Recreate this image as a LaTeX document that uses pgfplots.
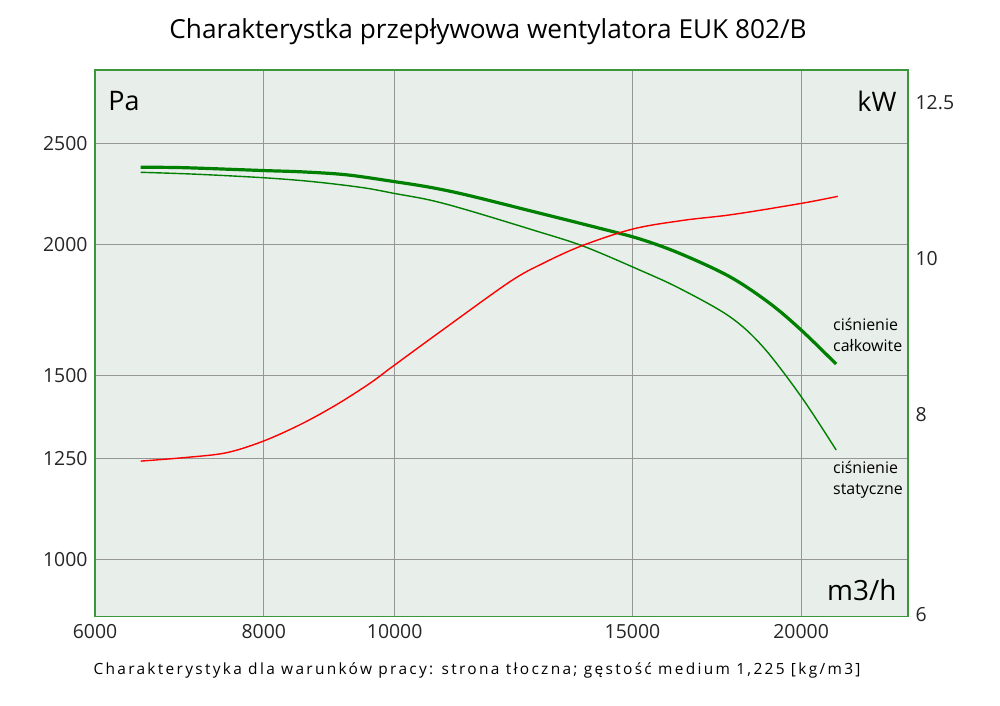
\documentclass[border=0pt]{standalone}
\usepackage{pgfplots}
\pgfplotsset{compat=1.18}
\usepackage{fontspec}
\usepackage{graphicx}
\setmainfont{Open Sans}
\definecolor{bgc}{RGB}{232,238,234}
\definecolor{framec}{RGB}{60,150,60}
\definecolor{gridc}{RGB}{150,150,150}
\definecolor{curveg}{RGB}{0,128,0}
\begin{document}
\begin{tikzpicture}[x=1bp,y=1bp]
\path[use as bounding box,fill=white] (0,0) rectangle (1000,706);
\node[font=\fontsize{26.3}{30}\selectfont] at (488,674) {Charakterystka przepływowa wentylatora EUK 802/B};
\node[font=\fontsize{15.5}{18}\selectfont] at (477,36) {\addfontfeatures{LetterSpace=15}Charakterystyka dla warunków pracy: strona tłoczna; gęstość medium 1,225 [kg/m3]};
\begin{axis}[
  at={(95bp,89.3bp)}, anchor=south west,
  scale only axis, width=813bp, height=546.7bp,
  xmode=log, ymode=log,
  xmin=6000, xmax=24000, ymin=882, ymax=2939,
  axis background/.style={fill=bgc},
  axis line style={framec, line width=1.5bp},
  xtick={6000,8000,10000,15000,20000},
  xticklabels={6000,8000,10000,15000,20000},
  ytick={1000,1250,1500,2000,2500},
  yticklabels={1000,1250,1500,2000,2500},
  minor tick num=0, minor xtick={}, minor ytick={},
  major tick length=0pt,
  grid=major,
  major grid style={gridc, line width=1bp},
  ticklabel style={font=\fontsize{19.5}{22}\selectfont, text=black!85},
  xticklabel style={yshift=-4bp},
  yticklabel style={xshift=-4bp},
  clip=true,
]
\addplot[curveg, line width=3.2bp, smooth, tension=0.55] coordinates {
(6486,2372) (6974,2370) (8000,2355) (8557,2348) (9214,2333) (10003,2298)
(10618,2270) (11303,2232) (12662,2152) (14185,2074) (15187,2026) (16256,1963)
(17701,1865) (18950,1759) (20000,1658) (21230,1538)};
\addplot[curveg, line width=1.4bp, smooth, tension=0.55] coordinates {
(6486,2346) (7135,2336) (8000,2318) (8704,2298) (9473,2268) (10003,2239)
(10618,2207) (11303,2160) (12662,2066)
(13786,1995) (15187,1892) (16256,1817) (17701,1708) (18737,1598)
(20000,1432) (21230,1273)};
\node[font=\fontsize{27}{30}\selectfont, anchor=west] at (rel axis cs:0.012,0.943) {Pa};
\node[font=\fontsize{27}{30}\selectfont, anchor=east] at (rel axis cs:0.99,0.943) {kW};
\node[font=\fontsize{28}{30}\selectfont, anchor=east] at (rel axis cs:0.99,0.048) {m3/h};
\node[font=\fontsize{16}{20.5}\selectfont, anchor=west, align=left, inner sep=0pt] at (rel axis cs:0.9077,0.5153) {ciśnienie\\całkowite};
\node[font=\fontsize{16}{20.5}\selectfont, anchor=west, align=left, inner sep=0pt] at (rel axis cs:0.9077,0.25) {ciśnienie\\statyczne};
\end{axis}
\begin{axis}[
  at={(95bp,89.3bp)}, anchor=south west,
  scale only axis, width=813bp, height=546.7bp,
  xmode=log, ymode=log,
  xmin=6000, xmax=24000, ymin=5.985, ymax=13.10,
  axis x line=none,
  axis y line*=right,
  axis line style={framec, line width=1.5bp, -},
  ytick={6,8,10,12.5},
  yticklabels={6,8,10,12.5},
  minor ytick={},
  major tick length=0pt,
  ticklabel style={font=\fontsize{19.5}{22}\selectfont, text=black!85},
  yticklabel style={xshift=4bp},
  clip=true,
]
\addplot[red, line width=1.4bp, smooth, tension=0.55] coordinates {
(6486,7.48) (7016,7.52) (7509,7.57) (8000,7.70) (8533,7.89) (9058,8.11)
(9584,8.36) (9974,8.57) (10802,9.00) (12168,9.67) (12880,9.93)
(13749,10.18) (15010,10.43) (16349,10.56) (17805,10.65) (20000,10.82)
(21288,10.93)};
\end{axis}
\end{tikzpicture}
\end{document}
